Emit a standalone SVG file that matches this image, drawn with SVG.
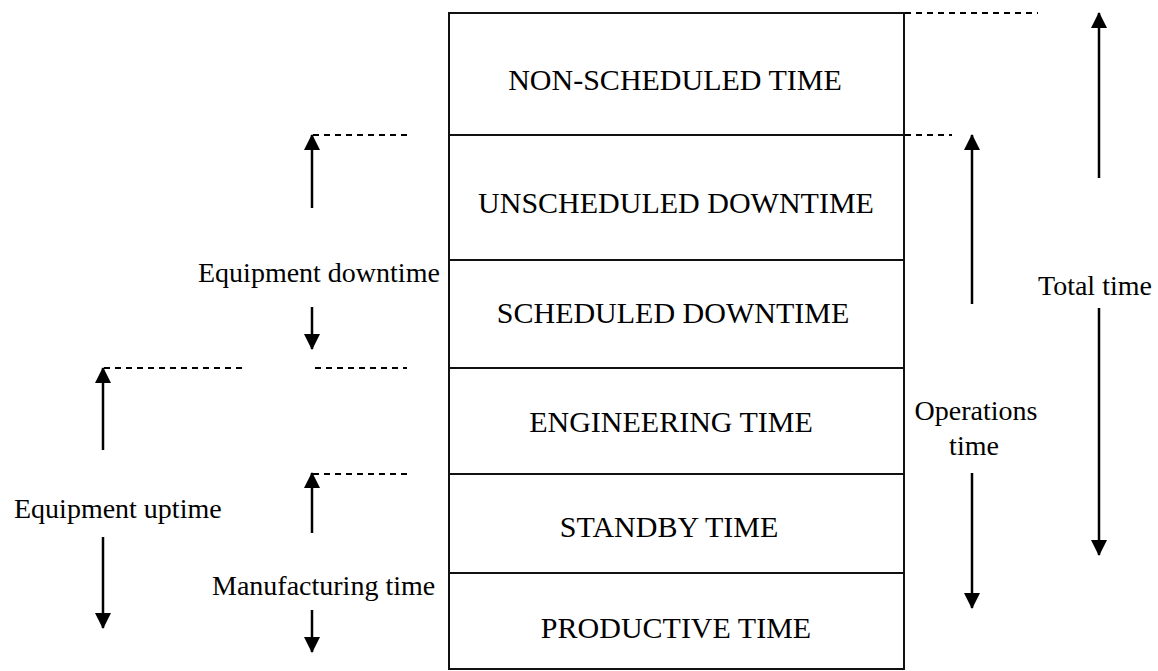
<svg xmlns="http://www.w3.org/2000/svg" width="1158" height="671" viewBox="0 0 1158 671">
<style>
.band{fill:#fff;stroke:#111;stroke-width:2}
.bt{font-family:"Liberation Serif","Times New Roman",serif;font-size:30px;fill:#000;text-anchor:middle}
.lt{font-family:"Liberation Serif","Times New Roman",serif;font-size:28px;fill:#000}
.arr{stroke:#000;stroke-width:2.5;fill:none;marker-end:url(#ah)}
.dash{stroke:#000;stroke-width:2;stroke-dasharray:6,5;fill:none}
</style>
<defs>
<marker id="ah" markerUnits="userSpaceOnUse" markerWidth="16" markerHeight="16" viewBox="0 0 16 16" refX="15" refY="8" orient="auto">
<path d="M0,0 L16,8 L0,16 Z" fill="#000"/>
</marker>
</defs>
<rect width="1158" height="671" fill="#fff"/>
<g id="non-scheduled"><rect class="band" x="449" y="13" width="455" height="122"/><text class="bt" x="675" y="90">NON-SCHEDULED TIME</text></g>
<g id="unscheduled-downtime"><rect class="band" x="449" y="135" width="455" height="125"/><text class="bt" x="676" y="213">UNSCHEDULED DOWNTIME</text></g>
<g id="scheduled-downtime"><rect class="band" x="449" y="260" width="455" height="108"/><text class="bt" x="673" y="323">SCHEDULED DOWNTIME</text></g>
<g id="engineering"><rect class="band" x="449" y="368" width="455" height="106"/><text class="bt" x="671" y="432">ENGINEERING TIME</text></g>
<g id="standby"><rect class="band" x="449" y="474" width="455" height="99"/><text class="bt" x="669" y="537">STANDBY TIME</text></g>
<g id="productive"><rect class="band" x="449" y="573" width="455" height="96"/><text class="bt" x="676" y="638">PRODUCTIVE TIME</text></g>
<g id="label-equipment-downtime"><text class="lt" x="198" y="282">Equipment downtime</text></g>
<g id="label-equipment-uptime"><text class="lt" x="14" y="518">Equipment uptime</text></g>
<g id="label-manufacturing"><text class="lt" x="212" y="595">Manufacturing time</text></g>
<g id="label-operations"><text class="lt" x="976" y="420" text-anchor="middle">Operations</text><text class="lt" x="974" y="455" text-anchor="middle">time</text></g>
<g id="label-total"><text class="lt" x="1038" y="295">Total time</text></g>
<g id="connectors">
<line class="dash" x1="313" y1="135" x2="407" y2="135"/>
<line class="dash" x1="104" y1="368" x2="247" y2="368"/>
<line class="dash" x1="315" y1="368" x2="407" y2="368"/>
<line class="dash" x1="313" y1="474" x2="407" y2="474"/>
<line class="dash" x1="905" y1="13" x2="1038" y2="13"/>
<line class="dash" x1="905" y1="135" x2="952" y2="135"/>
<line class="arr" x1="312" y1="208" x2="312" y2="135"/>
<line class="arr" x1="312" y1="307" x2="312" y2="349"/>
<line class="arr" x1="103" y1="450" x2="103" y2="368"/>
<line class="arr" x1="103" y1="537" x2="103" y2="628"/>
<line class="arr" x1="312" y1="533" x2="312" y2="473"/>
<line class="arr" x1="312" y1="610" x2="312" y2="652"/>
<line class="arr" x1="972" y1="304" x2="972" y2="135"/>
<line class="arr" x1="972" y1="473" x2="972" y2="608"/>
<line class="arr" x1="1099" y1="178" x2="1099" y2="13"/>
<line class="arr" x1="1099" y1="308" x2="1099" y2="555"/>
</g>
</svg>
